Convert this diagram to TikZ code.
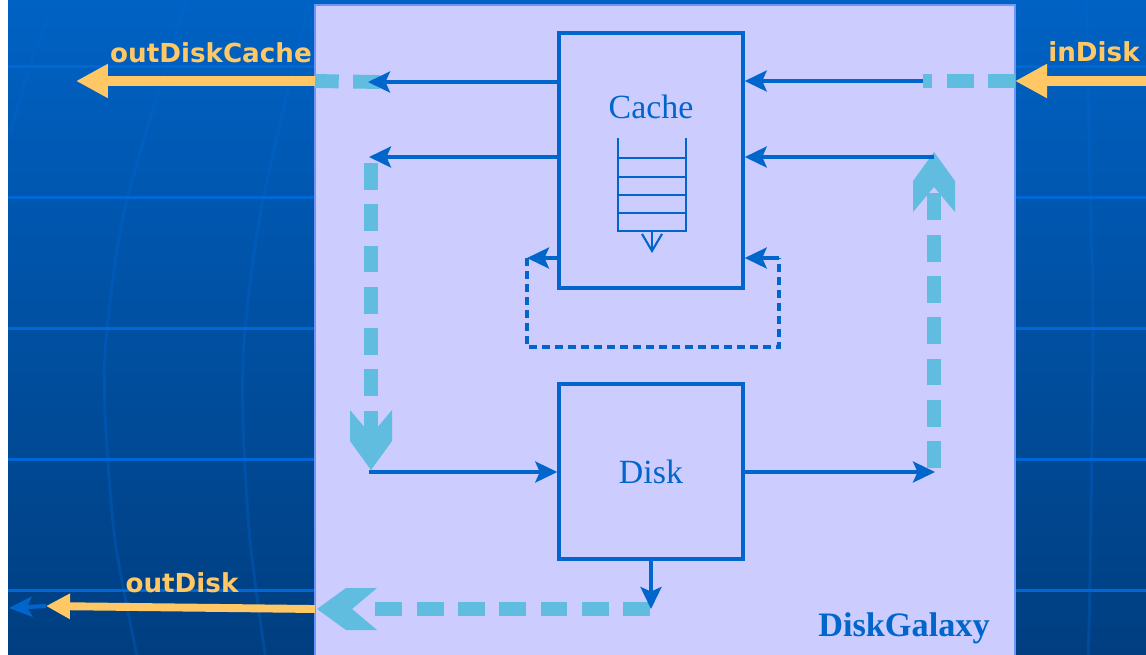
\documentclass[tikz,border=0pt]{standalone}
\usepackage{fontspec}
\setmainfont{Liberation Serif}
\newfontfamily\portfont{DejaVu Sans}
\definecolor{slidetop}{RGB}{0,98,196}
\definecolor{slidebottom}{RGB}{0,62,128}
\definecolor{gridblue}{RGB}{0,104,214}
\definecolor{panelviolet}{RGB}{204,204,255}
\definecolor{edgeblue}{RGB}{110,150,250}
\definecolor{flowblue}{RGB}{0,102,204}
\definecolor{streamcyan}{RGB}{96,189,224}
\definecolor{portyellow}{RGB}{255,200,100}
\usetikzlibrary{arrows.meta,positioning,calc}

\tikzset{
  chevron/.pic={
    \fill[streamcyan] (0,0) -- (-29,-21) -- (-60,-21) -- (-35,0) -- (-60,21) -- (-29,21) -- cycle;
  }
}

\begin{document}
\begin{tikzpicture}[x=0.02cm, y=-0.02cm,
    unitbox/.style={draw=flowblue, line width=2pt, fill=panelviolet, minimum width=3.68cm, inner sep=0pt,
      text=flowblue, font=\fontsize{19.3}{23}\selectfont},
    flow/.style={draw=flowblue, line width=2pt, -{Stealth[length=0.44cm, width=0.42cm, inset=0.09cm]}},
    stream/.style={draw=streamcyan, line width=7.9pt, dash pattern=on 15.3pt off 8.2pt},
    port/.style={draw=portyellow, line width=5.7pt, -{Triangle[length=0.64cm, width=0.64cm]}},
    portlabel/.style={anchor=base, text=portyellow, font=\portfont\bfseries\fontsize{14.9}{17}\selectfont},
    gridline/.style={gridblue, line width=1.7pt},
    meridian/.style={gridblue, line width=1.7pt, opacity=0.3},
    stackline/.style={flowblue, line width=0.9pt}]
    \useasboundingbox (0,0) rectangle (1146,654);
    \clip (0,0) rectangle (1146,654);

    % slide background
    \fill[white] (0,0) rectangle (8,654);
    \shade[top color=slidetop, bottom color=slidebottom] (8,0) rectangle (1146,654);
    \foreach \gy in {66,197,328,459,590}
        \draw[gridline] (8,\gy) -- (1146,\gy);
    \draw[meridian] plot[smooth] coordinates {(48,20) (33,57) (10,133)};
    \draw[meridian] plot[smooth] coordinates {(190,-10) (127,200) (107,330) (105,410) (115,540) (138,660)};
    \draw[meridian] plot[smooth] coordinates {(312,-10) (263,200) (245,330) (243,420) (250,540) (266,660)};
    \draw[meridian] plot[smooth] coordinates {(1086,-10) (1090,180) (1093,330) (1090,580) (1088,660)};

    % galaxy panel
    \fill[panelviolet] (315,5) rectangle (1015,670);
    \draw[edgeblue, line width=0.8pt] (315,670) -- (315,5) -- (1015,5) -- (1015,670);

    % cache and disk units
    \node[unitbox, minimum height=5.1cm] (cache) at (651,160.5) {};
    \node[text=flowblue, font=\fontsize{19.3}{23}\selectfont] (cachename) at (651,107) {Cache};
    \node[unitbox, minimum height=3.5cm] (disk) at (651,471.5) {Disk};
    \node[anchor=base, text=flowblue, font=\bfseries\fontsize{19.5}{23}\selectfont] (galaxy) at (904,636) {DiskGalaxy};

    % queue inside the cache
    \draw[stackline] (618,138) -- (618,231) -- (686,231) -- (686,138);
    \foreach \sy in {158,177,195,213}
        \draw[stackline] (618,\sy) -- (686,\sy);
    \coordinate (queue) at (652,231);
    \draw[stackline, line width=1.2pt, -{Straight Barb[length=0.34cm, width=0.4cm]}] (queue) -- ++(0,22);

    % ports and turning points
    \coordinate (cacheOut) at (368,82);
    \coordinate (leftTop) at (315,81);
    \coordinate (outTip) at (76,81);
    \coordinate (inSrc) at (1146,81);
    \coordinate (rightTop) at (1015,81);
    \coordinate (inJoin) at (923,81);
    \coordinate (feedL) at (369,157);
    \coordinate (feedLow) at (369,472);
    \coordinate (backLow) at (935,472);
    \coordinate (backHigh) at (934,157);
    \coordinate (loopL) at (527,258);
    \coordinate (loopR) at (779,258);
    \coordinate (drop) at (651,609);
    \coordinate (leftLow) at (315,609);
    \coordinate (diskTip) at (46,606);
    \coordinate (edgeTip) at (9,608);

    % dashed streams between the units
    \draw[stream] ($(cacheOut)+(12,0)$) -- (leftTop);
    \draw[stream] (rightTop) -- (inJoin);
    \draw[stream] (371,163) -- (371,445);
    \draw[stream] (934,468) -- (934,185);
    \draw[stream] ($(drop)+(-1,0)$) -- (370,609);
    \pic[rotate=-90] at (371,470) {chevron};
    \pic[rotate=90] at (934,152) {chevron};
    \pic[rotate=180] at (317,609) {chevron};

    % solid flows
    \draw[flow] (cache.west |- cacheOut) -- (cacheOut);
    \draw[flow] (inJoin) -- (inJoin -| cache.east);
    \draw[flow] (cache.west |- feedL) -- (feedL);
    \draw[flow] (feedLow) -- (feedLow -| disk.west);
    \draw[flow] (backLow -| disk.east) -- (backLow);
    \draw[flow] (backHigh) -- (backHigh -| cache.east);
    \draw[flow] (disk.south) -- (disk.south |- drop);
    \draw[flow] (cache.west |- loopL) -- (loopL);
    \draw[flow] (loopR) -- (loopR -| cache.east);
    \draw[flowblue, line width=2pt, dash pattern=on 4.6pt off 2.8pt] (loopL) -- ++(0,89) -| (loopR);

    % outside ports
    \draw[flowblue, line width=2.3pt, -{Stealth[length=0.46cm, width=0.4cm, inset=0.1cm]}] (diskTip) -- (edgeTip);
    \draw[port] (leftTop) -- (outTip);
    \draw[port] (inSrc) -- (rightTop);
    \draw[port, line width=4.5pt, -{Triangle[length=0.48cm, width=0.48cm]}] (leftLow) -- (diskTip);
    \node[portlabel] (outcachelabel) at (211,62) {outDiskCache};
    \node[portlabel] (inlabel) at (1094,61) {inDisk};
    \node[portlabel] (outdisklabel) at (182,592) {outDisk};
\end{tikzpicture}
\end{document}
